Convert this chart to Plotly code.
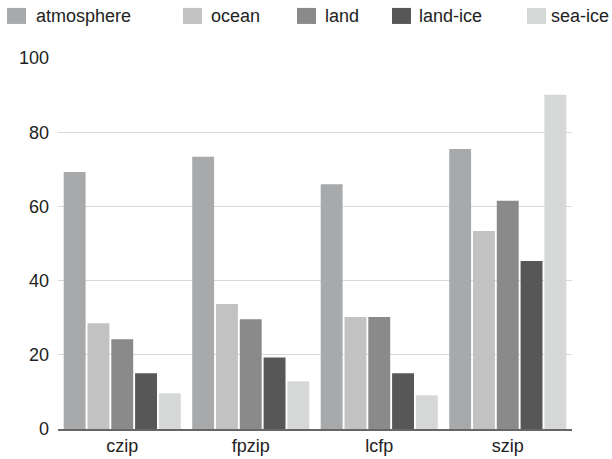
import plotly.graph_objects as go

categories = ["czip", "fpzip", "lcfp", "szip"]
series_names = ["atmosphere", "ocean", "land", "land-ice", "sea-ice"]
atmosphere = [69.3, 73.4, 66.0, 75.5]
ocean = [28.5, 33.7, 30.2, 53.4]
land = [24.2, 29.6, 30.2, 61.5]
land_ice = [15.0, 19.3, 15.0, 45.3]
sea_ice = [9.6, 12.9, 9.1, 90.1]
y_ticks = [0, 20, 40, 60, 80, 100]

series_values = [atmosphere, ocean, land, land_ice, sea_ice]
colors = ["#a8a9ab", "#c2c2c2", "#8a8a8a", "#575757", "#d6d7d7"]

FONT = "Liberation Sans, Arial, Helvetica, sans-serif"
TXT = "#222222"

FW, FH = 612, 459

fig = go.Figure()
for name, vals, col in zip(series_names, series_values, colors):
    fig.add_trace(go.Bar(x=categories, y=vals, name=name, marker_color=col,
                         marker_line_width=0))

# plot area in page pixels
L, R, T, B = 58, 572, 58.3, 428.7
W, H = R - L, B - T

def px_x(p):
    return (p - L) / W

def px_y(p):
    return (B - p) / H

# manual legend (swatch left page pixel, text left page pixel)
leg_swatch = [7, 183, 297, 392, 527]
leg_text = [35, 210, 324, 418, 550]
shapes = []
annotations = []
for name, col, sx, tx in zip(series_names, colors, leg_swatch, leg_text):
    shapes.append(dict(type="rect", xref="paper", yref="paper",
                       x0=px_x(sx), x1=px_x(sx + 19), y0=px_y(24.3), y1=px_y(8.3),
                       fillcolor=col, line=dict(width=0)))
    annotations.append(dict(text=name, xref="paper", yref="paper",
                            x=px_x(tx - 1), y=px_y(16.3), xanchor="left", yanchor="middle",
                            showarrow=False, font=dict(family=FONT, size=18, color=TXT)))

fig.update_layout(
    width=FW, height=FH,
    margin=dict(l=L, r=FW - R, t=T, b=FH - B, pad=0),
    paper_bgcolor="white", plot_bgcolor="white",
    showlegend=False,
    barmode="group", bargap=0.074, bargroupgap=0.08,
    font=dict(family=FONT, size=18, color=TXT),
    shapes=shapes, annotations=annotations,
    xaxis=dict(showgrid=False, showline=True, linecolor="#666666", linewidth=1.5,
               ticks="", tickfont=dict(size=18, color=TXT), fixedrange=True,
               automargin=False),
    yaxis=dict(range=[0, 100], tickvals=y_ticks, showgrid=True, gridcolor="#d9d9d9",
               gridwidth=1, zeroline=False, showline=False, ticks="",
               tickfont=dict(size=18, color=TXT), ticklabelstandoff=8, fixedrange=True,
               automargin=False),
)

fig.write_html("out.html", config={"displayModeBar": False},
               post_script="document.body.style.margin='0px';")
